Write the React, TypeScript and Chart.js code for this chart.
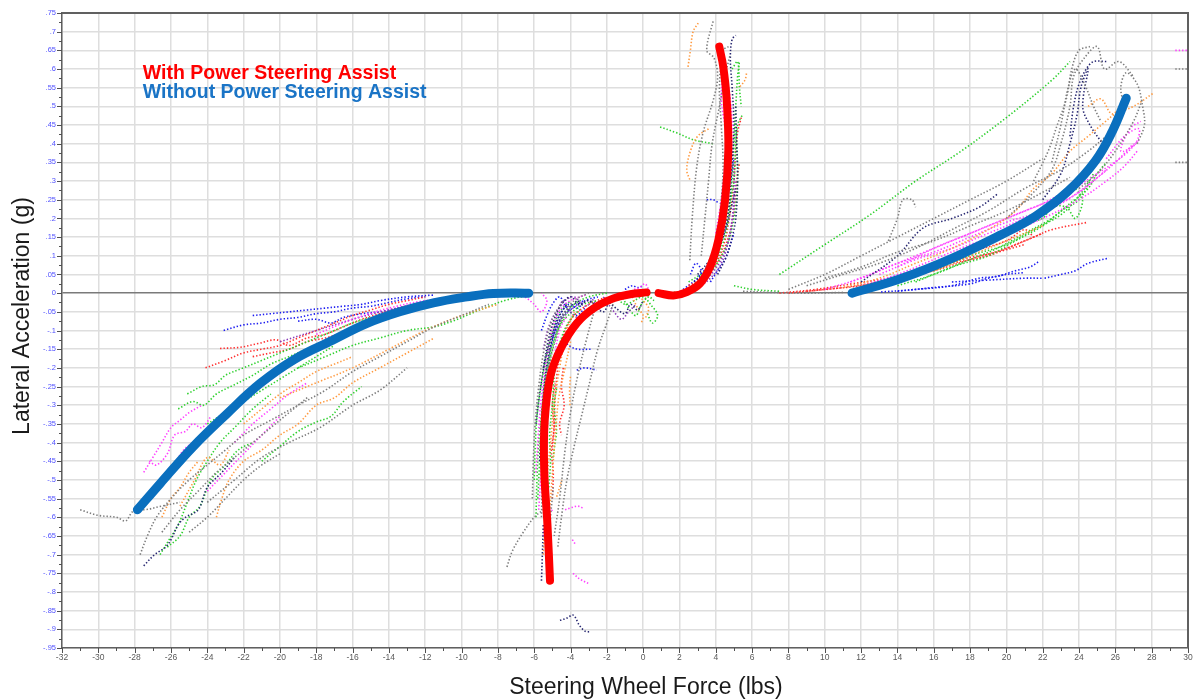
import React, { useEffect, useRef } from 'react';
import { Chart, registerables } from 'chart.js';

Chart.register(...registerables);

type P = [number, number];

const X_MIN = -32;
const X_MAX = 30;
const Y_MIN = -0.95;
const Y_MAX = 0.75;
const X_STEP = 1;
const Y_STEP = 0.025;

const xTitle = 'Steering Wheel Force (lbs)';
const yTitle = 'Lateral Acceleration (g)';
const legendLabels = ['With Power Steering Assist', 'Without Power Steering Assist'];

// Fitted curves
const withAssistLower: P[] = [[-5.13, -0.77], [-5.27, -0.62], [-5.45, -0.47], [-5.42, -0.34], [-5.1, -0.22], [-4.5, -0.145], [-3.66, -0.081], [-2.74, -0.041], [-1.64, -0.014], [-0.72, -0.003], [0.19, 0.002]];
const withAssistUpper: P[] = [[0.85, 0], [1.67, -0.006], [2.4, 0.003], [3.13, 0.026], [3.68, 0.07], [4.14, 0.142], [4.51, 0.249], [4.69, 0.383], [4.6, 0.517], [4.41, 0.606], [4.19, 0.66]];
const withoutAssistLeft: P[] = [[-27.85, -0.58], [-26.6, -0.51], [-24.8, -0.412], [-22.9, -0.322], [-21.1, -0.242], [-19.2, -0.177], [-17.1, -0.126], [-15.2, -0.081], [-13.4, -0.05], [-11.55, -0.026], [-9.7, -0.01], [-8.25, -0.001], [-6.3, 0]];
const withoutAssistRight: P[] = [[11.5, 0], [14.2, 0.039], [17, 0.093], [19.7, 0.156], [21.6, 0.206], [23.4, 0.273], [24.9, 0.354], [25.85, 0.435], [26.6, 0.522]];

// Raw test traces, by colour
const greenTraces: P[][] = [
  [[-25.1, -0.27], [-24.3, -0.25], [-23.6, -0.245], [-23, -0.22], [-22, -0.2], [-21, -0.18], [-20, -0.16], [-19, -0.14], [-18, -0.12], [-17, -0.1], [-16, -0.08], [-15, -0.065]],
  [[-25.6, -0.31], [-24.8, -0.29], [-24.2, -0.3], [-23.5, -0.27], [-22.5, -0.245], [-21.5, -0.22], [-20.5, -0.19], [-19.5, -0.17], [-18.5, -0.15], [-17.5, -0.135]],
  [[-19, -0.2], [-17.5, -0.17], [-16, -0.14], [-14.5, -0.12], [-13, -0.1], [-11.5, -0.09], [-10.5, -0.075], [-9.5, -0.055], [-8.5, -0.035], [-7.5, -0.018], [-6.2, -0.005]],
  [[-26.6, -0.7], [-26.1, -0.66], [-25.6, -0.62], [-25.1, -0.56], [-24.6, -0.5], [-24, -0.45], [-23.3, -0.4], [-22.5, -0.36], [-21.5, -0.31], [-20.5, -0.27]],
  [[-26.2, -0.68], [-25.5, -0.65], [-25, -0.6], [-24.4, -0.57], [-23.8, -0.5], [-23, -0.46], [-22.3, -0.42], [-21.5, -0.4]],
  [[-21, -0.45], [-20, -0.41], [-19, -0.37], [-18, -0.345], [-17.2, -0.33], [-16.5, -0.29], [-15.5, -0.25]],
  [[-24, -0.35], [-23, -0.32], [-22, -0.29], [-21, -0.26], [-20, -0.23], [-19, -0.2], [-18, -0.17], [-17, -0.14]],
  [[-5.8, -0.55], [-5.7, -0.45], [-5.6, -0.35], [-5.4, -0.25], [-5.1, -0.17], [-4.7, -0.1], [-4.3, -0.06], [-3.8, -0.03], [-3, -0.01], [-2, 0]],
  [[-6, -0.5], [-5.95, -0.42], [-5.85, -0.33], [-5.6, -0.24], [-5.3, -0.16], [-5, -0.1], [-4.6, -0.05], [-4, -0.02]],
  [[-5.9, -0.6], [-5.85, -0.5], [-5.75, -0.4], [-5.55, -0.3], [-5.3, -0.2], [-4.95, -0.13], [-4.5, -0.08], [-3.9, -0.05], [-3.3, -0.03], [-2.5, -0.02]],
  [[-5.2, -0.52], [-5.1, -0.45], [-5.15, -0.38], [-5, -0.3], [-4.85, -0.2], [-4.5, -0.12], [-4, -0.07], [-3.4, -0.04]],
  [[-4.96, -0.44], [-4.85, -0.4], [-4.77, -0.367], [-4.9, -0.3], [-4.75, -0.25]],
  [[-1.5, -0.01], [-1, -0.03], [-0.5, -0.02], [0, -0.01], [0.4, -0.03], [0.8, -0.06], [0.5, -0.08], [0.2, -0.05]],
  [[-1.2, -0.005], [-0.8, -0.04], [-0.4, -0.06], [-0.1, -0.03], [0.3, -0.01], [0.6, -0.02]],
  [[1.5, 0], [2.5, 0.01], [3.2, 0.03], [3.8, 0.07], [4.3, 0.12], [4.7, 0.2], [4.9, 0.3], [5, 0.4], [5.1, 0.5], [5.2, 0.58], [5.3, 0.62]],
  [[2.5, 0.03], [3.4, 0.06], [4, 0.11], [4.5, 0.18], [4.8, 0.25], [5, 0.3], [5.05, 0.35], [5.2, 0.45], [5.5, 0.48]],
  [[2.9, 0.02], [3.6, 0.05], [4.2, 0.09], [4.7, 0.14], [5, 0.2], [5.15, 0.26], [5.2, 0.32], [5.15, 0.4], [5.05, 0.46]],
  [[0.93, 0.445], [1.8, 0.43], [2.8, 0.41], [3.86, 0.4]],
  [[4.9, 0.6], [5.2, 0.62], [5.3, 0.55], [5.4, 0.5]],
  [[5, 0.02], [6, 0.01], [7.5, 0.005]],
  [[7.5, 0.05], [10, 0.13], [12.5, 0.21], [15, 0.3], [17.5, 0.38], [20, 0.47], [22.5, 0.57], [23.5, 0.62]],
  [[14, 0.02], [16, 0.05], [18, 0.09], [19.5, 0.12], [21, 0.16], [22.5, 0.2], [23.5, 0.24], [24.5, 0.28], [25, 0.32], [25.5, 0.35]],
  [[15, 0.03], [17, 0.07], [19, 0.1], [20.5, 0.14], [22, 0.18], [23, 0.22], [24, 0.25], [24.6, 0.3]],
  [[16, 0.06], [18, 0.1], [20, 0.13], [21.5, 0.17], [23, 0.21], [24, 0.26], [24.8, 0.32]],
  [[21, 0.19], [22, 0.2], [22.5, 0.23], [23.3, 0.23], [23.8, 0.2], [24.2, 0.25], [23.8, 0.28]],
];

const magentaTraces: P[][] = [
  [[-27.5, -0.48], [-27, -0.44], [-26.5, -0.4], [-26, -0.36], [-25.5, -0.34], [-25, -0.32], [-24.3, -0.3]],
  [[-27.2, -0.45], [-26.8, -0.46], [-26.2, -0.43], [-25.8, -0.38], [-25.2, -0.37], [-24.8, -0.35], [-24.3, -0.36], [-23.8, -0.33]],
  [[-26.6, -0.5], [-26, -0.47], [-25.3, -0.42], [-24.8, -0.4], [-24.1, -0.38]],
  [[-24, -0.53], [-23, -0.48], [-22, -0.43], [-21, -0.38], [-20, -0.33]],
  [[-22.5, -0.4], [-21.5, -0.35], [-20.5, -0.31], [-19.5, -0.27], [-18.5, -0.24]],
  [[-18, -0.11], [-16, -0.07], [-14, -0.04], [-12, -0.02], [-10, -0.01], [-8, 0.003]],
  [[-6.5, -0.01], [-6.06, -0.027], [-5.6, -0.05], [-5.3, -0.02], [-5.6, 0]],
  [[-5.9, -0.48], [-5.8, -0.4], [-5.65, -0.3], [-5.45, -0.22], [-5.2, -0.14], [-4.9, -0.08], [-4.5, -0.04], [-4, -0.02], [-3.2, -0.005]],
  [[-5.75, -0.58], [-5.65, -0.5], [-5.55, -0.42], [-5.35, -0.32], [-5.15, -0.24], [-4.9, -0.17], [-4.6, -0.1], [-4.2, -0.06]],
  [[-4.3, -0.58], [-4, -0.575], [-3.6, -0.57], [-3.3, -0.576]],
  [[-3.9, -0.66], [-3.7, -0.675]],
  [[-3.86, -0.75], [-3.5, -0.765], [-3.03, -0.777]],
  [[-5.5, -0.65], [-5.3, -0.6], [-5, -0.58]],
  [[-0.5, 0.01], [-0.2, 0.015], [0.1, 0.025], [0.3, 0.01]],
  [[2, 0.005], [3, 0.02], [3.6, 0.05], [4.1, 0.1], [4.4, 0.18], [4.6, 0.28], [4.7, 0.38], [4.5, 0.45], [4.3, 0.52], [4.4, 0.6]],
  [[3, 0.03], [3.8, 0.08], [4.3, 0.15], [4.6, 0.25], [4.8, 0.35], [4.9, 0.45], [4.8, 0.52], [4.6, 0.58], [4.5, 0.62]],
  [[4, 0.16], [4.3, 0.25], [4.5, 0.35], [4.55, 0.45], [4.4, 0.55], [4.3, 0.62]],
  [[11.4, 0.03], [13, 0.06], [15, 0.1], [17, 0.14], [19, 0.18], [21, 0.22], [23, 0.26], [25, 0.32], [26.5, 0.37], [27.3, 0.41]],
  [[12, 0.02], [14, 0.05], [16, 0.09], [18, 0.13], [20, 0.16], [22, 0.2], [24, 0.25], [25.5, 0.3], [26.5, 0.34], [27.2, 0.38]],
  [[10, 0.01], [12, 0.04], [14, 0.08], [16, 0.11], [18, 0.15], [20, 0.19], [22, 0.22], [24, 0.27], [25.5, 0.33]],
  [[13, 0.05], [15, 0.09], [17, 0.12], [19, 0.16], [21, 0.2], [23, 0.24], [24.5, 0.29], [26, 0.35], [27, 0.4]],
  [[14, 0.07], [16, 0.12], [18, 0.16], [20, 0.2], [22, 0.24], [23.5, 0.28]],
  [[25.5, 0.36], [26.5, 0.42], [27.3, 0.44], [27.1, 0.4], [26.3, 0.38], [26.8, 0.44], [27.4, 0.46]],
  [[29.3, 0.65], [30, 0.65]],
];

const purpleTraces: P[][] = [
  [[-20, -0.13], [-18, -0.1], [-16, -0.07], [-14, -0.045], [-12, -0.025], [-10, -0.012]],
  [[-5.4, -0.25], [-5.2, -0.17], [-4.9, -0.11], [-4.5, -0.07], [-4, -0.045], [-3.5, -0.03], [-3, -0.02], [-2.4, -0.03], [-1.8, -0.015]],
  [[-5.5, -0.15], [-5.2, -0.09], [-4.8, -0.05], [-4.3, -0.02], [-3.8, -0.01], [-3.2, -0.035], [-2.7, -0.015]],
  [[-4.8, -0.06], [-4.4, -0.02], [-4, -0.05], [-3.4, -0.07], [-2.9, -0.05], [-2.3, -0.04]],
  [[-2.2, -0.01], [-1.6, -0.05], [-1.2, -0.07], [-0.8, -0.05], [-0.4, -0.03]],
  [[2.6, 0.01], [3.3, 0.03], [3.9, 0.06], [4.4, 0.1], [4.8, 0.16], [5, 0.23], [5.1, 0.3]],
  [[3.2, 0.02], [3.7, 0.04], [4.2, 0.07], [4.6, 0.12], [4.9, 0.2], [5, 0.28], [4.95, 0.36], [4.85, 0.42]],
];

const orangeTraces: P[][] = [
  [[-26.5, -0.6], [-26, -0.55], [-25.5, -0.52], [-25, -0.48], [-24.5, -0.45]],
  [[-25.5, -0.57], [-24.7, -0.5], [-24, -0.44], [-23.3, -0.46], [-22.8, -0.42]],
  [[-23.5, -0.6], [-23.2, -0.55], [-22.8, -0.5], [-22, -0.45], [-21, -0.42], [-20, -0.38], [-19, -0.35], [-18, -0.3], [-17, -0.28], [-16, -0.24], [-14.5, -0.2], [-13, -0.16], [-11.5, -0.12]],
  [[-22, -0.35], [-21, -0.31], [-20, -0.27], [-19, -0.24], [-18, -0.21], [-17, -0.19], [-16, -0.17]],
  [[-20, -0.28], [-18, -0.24], [-16, -0.2], [-14, -0.15], [-12, -0.1], [-10, -0.06], [-8, -0.03]],
  [[-5.5, -0.7], [-5.4, -0.6], [-5.3, -0.5], [-5.1, -0.4], [-4.9, -0.3], [-4.6, -0.2], [-4.2, -0.1], [-3.8, -0.05]],
  [[-5.25, -0.62], [-5.1, -0.55], [-4.95, -0.45], [-4.8, -0.36], [-4.65, -0.28], [-4.3, -0.2], [-4, -0.13]],
  [[-4.03, -0.3], [-4.05, -0.26], [-4, -0.22]],
  [[-4.76, -0.545], [-4.6, -0.52], [-4.49, -0.5]],
  [[-0.6, -0.01], [-0.3, -0.04], [0, -0.06], [-0.1, -0.08]],
  [[-0.3, 0], [0, -0.02], [0.3, -0.04], [0.1, -0.07]],
  [[2.47, 0.606], [2.6, 0.65], [2.75, 0.7], [3.03, 0.723]],
  [[5.33, 0.553], [5.6, 0.57], [5.7, 0.59]],
  [[3.6, 0.44], [3, 0.42], [2.6, 0.38], [2.4, 0.33], [2.6, 0.3]],
  [[28.05, 0.534], [27, 0.5], [26, 0.48], [25.3, 0.453], [24.5, 0.42], [23.5, 0.38], [22.5, 0.32], [21.5, 0.28], [20.5, 0.22], [19, 0.17], [17, 0.12], [15, 0.08], [13, 0.04], [11, 0.015]],
  [[24.5, 0.5], [25.2, 0.52], [25.8, 0.48], [26.3, 0.5]],
  [[12, 0.02], [14, 0.04], [16, 0.06], [18, 0.1], [20, 0.14], [22, 0.18]],
];

const redTraces: P[][] = [
  [[-24.1, -0.2], [-23, -0.18], [-22, -0.16], [-21, -0.15], [-20, -0.14], [-19, -0.12], [-18, -0.1], [-17, -0.08], [-16, -0.06], [-15, -0.045], [-14, -0.03], [-13, -0.02], [-12, -0.01]],
  [[-23.3, -0.148], [-22.2, -0.145], [-21.2, -0.135], [-20.2, -0.125], [-19.5, -0.14], [-18.5, -0.12], [-17.5, -0.11], [-16.5, -0.09], [-15.5, -0.07], [-14.5, -0.055], [-13.5, -0.04], [-12, -0.025], [-10.5, -0.015]],
  [[-21.5, -0.17], [-20.5, -0.16], [-19.5, -0.15], [-18.5, -0.13], [-17.5, -0.12], [-16.8, -0.11]],
  [[-5, -0.42], [-4.9, -0.35], [-4.85, -0.28], [-4.75, -0.22], [-4.6, -0.16], [-4.3, -0.1], [-3.8, -0.06], [-3, -0.03], [-2, -0.01]],
  [[-5, -0.55], [-4.95, -0.48], [-5.05, -0.42], [-4.9, -0.36], [-5, -0.3], [-4.85, -0.24]],
  [[-4.4, -0.2], [-4.5, -0.25], [-4.35, -0.3], [-4.6, -0.35], [-4.5, -0.38]],
  [[2.5, 0.02], [3.3, 0.04], [4, 0.08], [4.5, 0.14], [4.8, 0.22], [5, 0.3], [5.1, 0.38], [5.2, 0.43], [5.4, 0.47]],
  [[3.5, 0.04], [4.2, 0.09], [4.7, 0.15], [5, 0.22], [5.15, 0.3], [5.3, 0.35]],
  [[8, 0], [10, 0.01], [12, 0.02], [14, 0.04], [16, 0.06], [18, 0.09], [20, 0.12], [21.5, 0.15], [22.5, 0.17], [24.5, 0.19]],
  [[9, 0.005], [11, 0.015], [13, 0.03], [15, 0.05], [17, 0.08], [19, 0.1], [20.5, 0.13], [22, 0.16]],
  [[7.5, 0], [9.5, 0.01], [11.5, 0.025], [13.5, 0.04], [15.5, 0.06], [17.5, 0.09], [19.5, 0.11], [21, 0.13]],
  [[16, 0.08], [18, 0.11], [20, 0.14], [21, 0.17], [21.5, 0.15]],
];

const blueTraces: P[][] = [
  [[-23.1, -0.1], [-22, -0.085], [-21, -0.08], [-20, -0.07], [-19, -0.065], [-18, -0.055], [-17, -0.05], [-16, -0.04], [-15, -0.035], [-14, -0.025], [-13, -0.015], [-12, -0.01]],
  [[-21.5, -0.06], [-20.5, -0.055], [-19.5, -0.05], [-18.5, -0.045], [-17.5, -0.04], [-16.5, -0.035], [-15.5, -0.03], [-14.5, -0.02], [-13, -0.01], [-11.5, -0.005]],
  [[-19, -0.075], [-18, -0.07], [-17.2, -0.08], [-16.5, -0.065], [-15.5, -0.055], [-14.5, -0.05], [-13.5, -0.04], [-12.5, -0.03], [-11, -0.02], [-10, -0.01]],
  [[-5, -0.12], [-4.8, -0.08], [-4.5, -0.05], [-4.1, -0.03], [-3.6, -0.04], [-3.2, -0.02], [-2.5, -0.01]],
  [[-5.6, -0.1], [-5.3, -0.06], [-5, -0.03], [-4.6, -0.01], [-4.2, -0.04], [-3.7, -0.06], [-3.2, -0.04]],
  [[-4.4, -0.12], [-4.1, -0.14], [-3.6, -0.15], [-2.9, -0.15]],
  [[-3.66, -0.206], [-3.2, -0.2], [-2.56, -0.206]],
  [[-5.3, -0.3], [-5.25, -0.22], [-5.1, -0.15], [-4.8, -0.1], [-4.4, -0.06], [-3.9, -0.04], [-3.3, -0.02]],
  [[-1, 0.01], [-0.6, 0.02], [-0.3, 0.015], [0, 0.02]],
  [[2.2, 0.01], [3, 0.04], [3.5, 0.07], [3.9, 0.1], [4.2, 0.14], [4.5, 0.22], [4.8, 0.3], [5, 0.36]],
  [[3.7, 0.03], [4.1, 0.06], [4.5, 0.09], [4.8, 0.13], [5, 0.16]],
  [[2.6, 0.05], [2.9, 0.08], [3.2, 0.06], [3, 0.04]],
  [[3.5, 0.25], [3.86, 0.25], [4.2, 0.24]],
  [[13.1, 0.003], [15, 0.01], [17, 0.02], [18.5, 0.04], [19.5, 0.045], [20.5, 0.06], [21.3, 0.07], [21.77, 0.084]],
  [[14, 0.005], [16, 0.015], [18, 0.025], [19, 0.04], [20, 0.05], [21, 0.055]],
  [[22.1, 0.04], [23, 0.05], [23.8, 0.06], [24.5, 0.08], [25.65, 0.094]],
  [[17, 0.03], [19, 0.035], [21, 0.04], [22, 0.04]],
];

const navyTraces: P[][] = [
  [[-27.5, -0.73], [-26.9, -0.7], [-26.3, -0.68], [-26, -0.66], [-25.6, -0.62], [-25.2, -0.6], [-24.5, -0.58], [-24, -0.52], [-23.2, -0.48], [-22.5, -0.44]],
  [[-5.5, -0.2], [-5.2, -0.12], [-4.9, -0.07], [-4.5, -0.03], [-4, -0.01], [-3.5, -0.03], [-3, -0.02], [-2.2, -0.05], [-1.8, -0.02], [-1, -0.01]],
  [[-5.7, -0.45], [-5.6, -0.35], [-5.5, -0.27], [-5.3, -0.19], [-5, -0.12], [-4.6, -0.07], [-4.1, -0.04], [-3.5, -0.02]],
  [[-5.9, -0.35], [-5.7, -0.27], [-5.4, -0.18], [-5, -0.11], [-4.6, -0.06], [-4.2, -0.03]],
  [[-4.58, -0.876], [-4.2, -0.87], [-3.85, -0.862], [-3.5, -0.89], [-3.2, -0.905], [-2.93, -0.907]],
  [[-2, -0.02], [-1.5, -0.04], [-1, -0.055], [-0.7, -0.03], [-0.3, -0.045], [0, -0.02]],
  [[-5.6, -0.77], [-5.55, -0.7], [-5.5, -0.62]],
  [[2.8, 0.03], [3.5, 0.06], [4, 0.1], [4.4, 0.15], [4.7, 0.22], [4.9, 0.35], [5, 0.45], [4.9, 0.55], [4.8, 0.63], [4.9, 0.68], [5.1, 0.69]],
  [[3, 0.05], [3.7, 0.09], [4.2, 0.13], [4.6, 0.18], [4.9, 0.24], [5.1, 0.28]],
  [[4.1, 0.05], [4.6, 0.1], [4.9, 0.15], [5.1, 0.2], [5.2, 0.3], [5.15, 0.4], [5.1, 0.5]],
  [[12, 0.03], [14, 0.1], [15.4, 0.174], [17, 0.2], [18.5, 0.23], [19.5, 0.265]],
  [[22, 0.25], [23, 0.32], [23.5, 0.4], [23.9, 0.48], [24.1, 0.55], [24.5, 0.6], [24.2, 0.5], [24.6, 0.45], [25.3, 0.4]],
  [[23.5, 0.42], [23.7, 0.5], [24, 0.56], [24.4, 0.6], [24.8, 0.62], [25.5, 0.62]],
];

const grayTraces: P[][] = [
  [[-31, -0.58], [-30, -0.595], [-29, -0.6], [-28.5, -0.61], [-28.2, -0.59], [-27.9, -0.575], [-27.5, -0.58], [-26.5, -0.57], [-25.5, -0.56]],
  [[-27.7, -0.7], [-27.3, -0.65], [-26.8, -0.6], [-26, -0.55], [-25, -0.5], [-24, -0.46], [-23, -0.42], [-22, -0.38], [-20.5, -0.34], [-19, -0.3], [-17.5, -0.26], [-16, -0.21], [-14.5, -0.17], [-13, -0.13], [-11.5, -0.09], [-10, -0.06], [-8.5, -0.03]],
  [[-26.5, -0.64], [-25.5, -0.58], [-24.5, -0.53], [-23.5, -0.48], [-22.5, -0.44], [-21.5, -0.4], [-20.5, -0.36], [-19.5, -0.32], [-18.5, -0.28]],
  [[-24, -0.56], [-22.5, -0.5], [-21, -0.44], [-19.5, -0.4], [-17.8, -0.36], [-16, -0.3], [-14.5, -0.26], [-13, -0.2]],
  [[-25, -0.64], [-24, -0.6], [-23, -0.55], [-22, -0.5], [-21, -0.46], [-20, -0.43]],
  [[-5.6, -0.6], [-5.55, -0.5], [-5.5, -0.4], [-5.4, -0.3], [-5.2, -0.2], [-4.8, -0.12], [-4.4, -0.06], [-3.8, -0.02], [-3, 0]],
  [[-6.1, -0.55], [-6.05, -0.45], [-5.95, -0.35], [-5.75, -0.25], [-5.45, -0.15], [-5, -0.07], [-4.4, -0.02]],
  [[-5.3, -0.75], [-5.2, -0.68], [-5.1, -0.6], [-4.95, -0.52]],
  [[-7.5, -0.733], [-7.2, -0.69], [-6.6, -0.64], [-6, -0.6], [-5.5, -0.58]],
  [[-1.6, -0.02], [-2, -0.08], [-2.5, -0.15], [-3, -0.25], [-3.4, -0.33], [-3.8, -0.41], [-4.2, -0.5], [-4.5, -0.6], [-4.7, -0.68]],
  [[-2.6, -0.03], [-3.1, -0.12], [-3.6, -0.22], [-4, -0.32], [-4.3, -0.42], [-4.6, -0.55], [-4.9, -0.65]],
  [[2.57, 0.088], [2.7, 0.2], [2.95, 0.338], [3.3, 0.43], [3.86, 0.517], [4.1, 0.58], [3.9, 0.63], [3.5, 0.65], [3.86, 0.73]],
  [[3.5, 0.07], [4, 0.14], [4.3, 0.25], [4.4, 0.35], [4.3, 0.45], [4.2, 0.55], [4.4, 0.65], [4.7, 0.66]],
  [[3.2, 0.1], [3.4, 0.2], [3.6, 0.3], [3.8, 0.4], [4.2, 0.5], [4.5, 0.58], [4.8, 0.64]],
  [[5.5, 0.005], [7, 0.002], [9, 0], [11, 0.002]],
  [[8, 0.01], [10, 0.05], [12, 0.1], [14, 0.15], [16, 0.2], [18, 0.25], [20, 0.3], [22, 0.36]],
  [[9, 0.02], [11, 0.05], [13, 0.08], [15, 0.12], [17, 0.17], [19, 0.22], [21, 0.28], [23, 0.33], [24.5, 0.38], [25.5, 0.42]],
  [[10, 0.04], [12, 0.07], [14, 0.11], [16, 0.14], [18, 0.18], [20, 0.22], [22, 0.27], [23.5, 0.31]],
  [[13.5, 0.14], [14, 0.2], [14.3, 0.25], [14.8, 0.25], [15, 0.23]],
  [[20, 0.2], [21.5, 0.27], [22.5, 0.33], [23, 0.4], [23.5, 0.5], [23.7, 0.58], [24.3, 0.63], [25, 0.66], [25.4, 0.6], [26.2, 0.62], [27, 0.58]],
  [[21.5, 0.3], [22.3, 0.38], [22.8, 0.45], [23.3, 0.52], [23.6, 0.6], [24, 0.65], [24.6, 0.66]],
  [[22.5, 0.35], [23, 0.45], [23.4, 0.55], [23.8, 0.6], [24.3, 0.56], [24.8, 0.5], [25.2, 0.46]],
  [[26.5, 0.5], [26.3, 0.55], [26.6, 0.59], [27.2, 0.56], [27.5, 0.5], [27.6, 0.45], [27.2, 0.4]],
  [[24, 0.28], [25, 0.32], [26, 0.38], [27, 0.46], [27.5, 0.52]],
  [[29.3, 0.6], [30, 0.6]],
  [[29.3, 0.35], [30, 0.35]],
];

const traceGroups: { color: string; traces: P[][] }[] = [
  { color: '#7d7d7d', traces: grayTraces },
  { color: '#262670', traces: navyTraces },
  { color: '#ff9a40', traces: orangeTraces },
  { color: '#ff40ff', traces: magentaTraces },
  { color: '#8a3cb8', traces: purpleTraces },
  { color: '#2ed02e', traces: greenTraces },
  { color: '#ff3030', traces: redTraces },
  { color: '#1c1cf0', traces: blueTraces },
];

const isMajorY = (v: number) => Math.abs(v * 20 - Math.round(v * 20)) < 1e-6;
const isMajorX = (v: number) => Math.round(v) % 2 === 0;

const fmtY = (v: number) => {
  const n = Math.round(v * 1000) / 1000;
  if (!isMajorY(n)) return '';
  if (Math.abs(n) < 1e-9) return '0';
  return String(parseFloat(n.toFixed(2))).replace(/^(-?)0\./, '$1.');
};

const FONT = '"Liberation Sans", Arial, sans-serif';

const decorPlugin = {
  id: 'decor',
  afterDraw(chart: any) {
    const { ctx, chartArea: a, scales } = chart;
    const xs = scales.x;
    const ys = scales.y;
    ctx.save();
    ctx.strokeStyle = '#606060';
    ctx.lineWidth = 2;
    ctx.beginPath();
    ctx.moveTo(a.left, a.top);
    ctx.lineTo(a.right, a.top);
    ctx.lineTo(a.right, a.bottom);
    ctx.stroke();

    ctx.lineWidth = 1;
    ctx.strokeStyle = '#505050';
    ys.ticks.forEach((t: any) => {
      const py = Math.round(ys.getPixelForValue(t.value)) + 0.5;
      const len = isMajorY(t.value) ? 5 : 3;
      ctx.beginPath();
      ctx.moveTo(a.left - len, py);
      ctx.lineTo(a.left, py);
      ctx.stroke();
    });
    xs.ticks.forEach((t: any) => {
      const px = Math.round(xs.getPixelForValue(t.value)) + 0.5;
      const len = isMajorX(t.value) ? 5 : 3;
      ctx.beginPath();
      ctx.moveTo(px, a.bottom);
      ctx.lineTo(px, a.bottom + len);
      ctx.stroke();
    });

    // legend text
    ctx.textAlign = 'left';
    ctx.textBaseline = 'alphabetic';
    ctx.font = `bold 19.5px ${FONT}`;
    const lx = xs.getPixelForValue(-27.55);
    ctx.fillStyle = '#ff0000';
    ctx.fillText(legendLabels[0], lx, 79);
    ctx.fillStyle = '#1a74c6';
    ctx.fillText(legendLabels[1], lx, 98);

    // axis titles
    ctx.fillStyle = '#1a1a1a';
    ctx.font = `23px ${FONT}`;
    ctx.textAlign = 'center';
    ctx.textBaseline = 'middle';
    ctx.fillText(xTitle, 646, 688);
    ctx.translate(23, 316);
    ctx.rotate(-Math.PI / 2);
    ctx.fillText(yTitle, 0, 0);
    ctx.restore();
  },
};

const toPts = (arr: P[]) => arr.map(([x, y]) => ({ x, y }));

export default function App() {
  const ref = useRef<HTMLCanvasElement>(null);
  useEffect(() => {
    if (!ref.current) return;
    const datasets: any[] = [];
    const curve = (data: P[], color: string, w: number) => ({
      data: toPts(data),
      showLine: true,
      borderColor: color,
      backgroundColor: color,
      borderWidth: w,
      pointRadius: 0,
      tension: 0.4,
      borderCapStyle: 'round',
      borderJoinStyle: 'round',
      order: 0,
    });
    datasets.push(curve(withAssistLower, '#ff0000', 8));
    datasets.push(curve(withAssistUpper, '#ff0000', 8));
    datasets.push(curve(withoutAssistLeft, '#0a6fbe', 9));
    datasets.push(curve(withoutAssistRight, '#0a6fbe', 9));
    traceGroups.forEach((g) => {
      g.traces.forEach((tr) => {
        datasets.push({
          data: toPts(tr),
          showLine: true,
          borderColor: g.color,
          backgroundColor: g.color,
          borderWidth: 1.6,
          borderDash: [1.4, 2],
          pointRadius: 0,
          tension: 0.35,
          order: 1,
        });
      });
    });

    const chart = new Chart(ref.current, {
      type: 'scatter',
      data: { datasets },
      options: {
        animation: false,
        responsive: false,
        layout: { padding: { top: 13, right: 6, left: 0, bottom: 0 } },
        plugins: { legend: { display: false }, tooltip: { enabled: false } },
        scales: {
          x: {
            type: 'linear',
            min: X_MIN,
            max: X_MAX,
            afterFit: (s: any) => { s.height = 52; s.paddingRight = 0; s.paddingLeft = 0; },
            ticks: {
              stepSize: X_STEP,
              autoSkip: false,
              maxRotation: 0,
              padding: 5,
              color: '#5a5a5a',
              font: { size: 8.5, family: FONT },
              callback: (v: any) => (isMajorX(Number(v)) ? String(Math.round(Number(v))) : ''),
            },
            grid: {
              drawTicks: false,
              color: (c: any) => (c.tick && isMajorX(c.tick.value) ? '#dedede' : 'rgba(0,0,0,0)'),
              lineWidth: 1.5,
            },
            border: { color: '#606060', width: 1.5 },
          },
          y: {
            type: 'linear',
            min: Y_MIN,
            max: Y_MAX,
            afterFit: (s: any) => { s.width = 62; s.paddingTop = 0; s.paddingBottom = 0; },
            ticks: {
              stepSize: Y_STEP,
              autoSkip: false,
              padding: 6,
              color: '#5050ff',
              font: { size: 7.5, family: FONT },
              callback: (v: any) => fmtY(Number(v)),
            },
            grid: {
              drawTicks: false,
              color: (c: any) => {
                if (!c.tick) return 'rgba(0,0,0,0)';
                const v = c.tick.value;
                if (Math.abs(v) < 1e-9) return '#7a7a7a';
                return isMajorY(v) ? '#dedede' : 'rgba(0,0,0,0)';
              },
              lineWidth: 1.5,
            },
            border: { color: '#606060', width: 1.5 },
          },
        },
      },
      plugins: [decorPlugin],
    } as any);
    return () => chart.destroy();
  }, []);

  return (
    <div style={{ position: 'absolute', left: 0, top: 0, width: 1194, height: 700, background: '#fff' }}>
      <canvas ref={ref} width={1194} height={700} style={{ display: 'block' }} />
    </div>
  );
}
